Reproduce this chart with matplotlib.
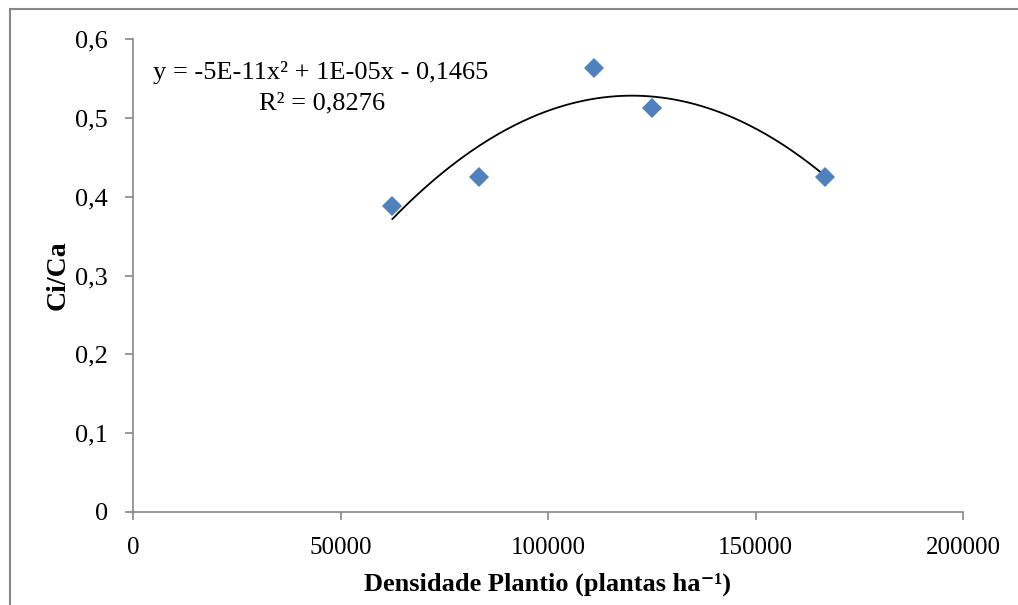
import matplotlib.pyplot as plt
import numpy as np
from matplotlib.patches import Rectangle

densidade = [62500, 83333, 111111, 125000, 166667]
ci_ca = [0.388, 0.425, 0.563, 0.513, 0.425]
x_ticks = [0, 50000, 100000, 150000, 200000]
y_ticks = [0, 0.1, 0.2, 0.3, 0.4, 0.5, 0.6]
y_tick_labels = ['0', '0,1', '0,2', '0,3', '0,4', '0,5', '0,6']
equacao = 'y = -5E-11x² + 1E-05x - 0,1465'
r2 = 'R² = 0,8276'

plt.rcParams['font.family'] = ['Liberation Serif', 'DejaVu Serif']

fig = plt.figure(figsize=(10.18, 6.05), dpi=100)
ax = fig.add_axes([133 / 1018, 1 - 512 / 605, 830 / 1018, 473 / 605])

# outer chart border
fig.patches.append(Rectangle((10 / 1018, -0.05), 1.1, 1 - 9 / 605 + 0.05,
                             transform=fig.transFigure, fill=False,
                             edgecolor='#878787', linewidth=1.5))

# trend line (quadratic fit)
coef = np.polyfit(densidade, ci_ca, 2)
xs = np.linspace(min(densidade), max(densidade), 200)
ax.plot(xs, np.polyval(coef, xs), color='black', linewidth=1.3, zorder=2)

ax.plot(densidade, ci_ca, linestyle='none', marker='D', markersize=10,
        color='#4F81BD', markeredgewidth=0, zorder=3)

ax.set_xlim(0, 200000)
ax.set_ylim(0, 0.6)
ax.set_xticks(x_ticks)
ax.set_xticklabels([str(t) for t in x_ticks])
ax.set_yticks(y_ticks)
ax.set_yticklabels(y_tick_labels)

for side in ['top', 'right']:
    ax.spines[side].set_visible(False)
for side in ['left', 'bottom']:
    ax.spines[side].set_color('#868686')
    ax.spines[side].set_linewidth(1.2)
ax.tick_params(axis='both', direction='out', length=6, width=1.2,
               color='#868686')
ax.tick_params(axis='y', labelsize=19, pad=12)
ax.tick_params(axis='x', labelsize=18, pad=12)

ax.set_xlabel('Densidade Plantio (plantas ha⁻¹)', fontsize=19,
              fontweight='bold', labelpad=10)
ax.set_ylabel('Ci/Ca', fontsize=20, fontweight='bold', labelpad=3)

ax.text(153 / 1018, 1 - 73 / 605, equacao, transform=fig.transFigure,
        fontsize=19, ha='left', va='center')
ax.text(322 / 1018, 1 - 103 / 605, r2, transform=fig.transFigure,
        fontsize=19, ha='center', va='center')

fig.savefig('out.png', dpi=100)
